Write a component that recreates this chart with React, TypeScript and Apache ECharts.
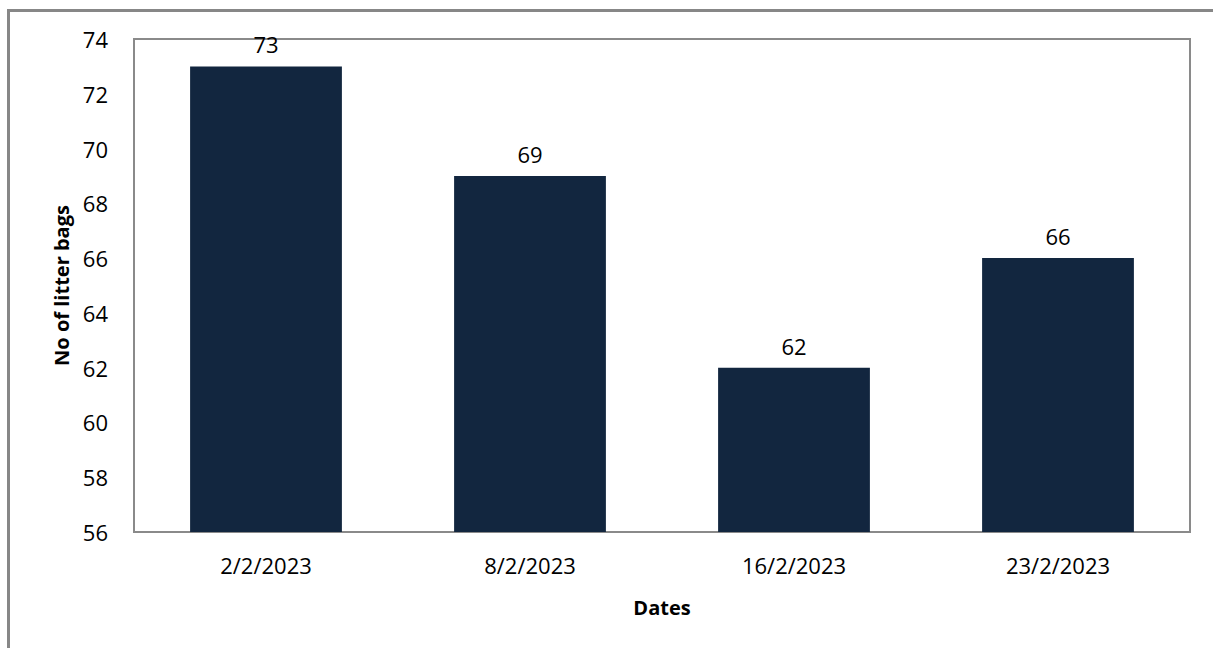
import React, { useEffect, useRef } from "react";
import * as echarts from "echarts";

const categories = ["2/2/2023", "8/2/2023", "16/2/2023", "23/2/2023"];
const values = [73, 69, 62, 66];
const yMin = 56;
const yMax = 74;
const yInterval = 2;

export default function App() {
  const ref = useRef<HTMLDivElement>(null);
  useEffect(() => {
    if (!ref.current) return;
    const chart = echarts.init(ref.current, null, { renderer: "svg" });
    const font = "'Open Sans', 'Noto Sans', sans-serif";
    chart.setOption({
      animation: false,
      backgroundColor: "#ffffff",
      graphic: [
        {
          type: "rect",
          shape: { x: 8.5, y: 10.5, width: 1300, height: 800 },
          style: { fill: "none", stroke: "#878787", lineWidth: 3 },
          silent: true,
        },
      ],
      grid: {
        left: 134,
        top: 39,
        right: 23,
        bottom: 116,
        show: true,
        borderColor: "#8a8a8a",
        borderWidth: 2,
        backgroundColor: "transparent",
      },
      xAxis: {
        type: "category",
        data: categories,
        name: "Dates",
        nameLocation: "middle",
        nameGap: 65,
        nameTextStyle: { fontFamily: font, fontSize: 20, fontWeight: "bold", color: "#000", verticalAlign: "top" },
        axisLine: { show: false },
        axisTick: { show: false },
        axisLabel: { fontFamily: font, fontSize: 22, color: "#000", margin: 22 },
      },
      yAxis: {
        type: "value",
        min: yMin,
        max: yMax,
        interval: yInterval,
        name: "No of litter bags",
        nameLocation: "middle",
        nameGap: 58,
        nameTextStyle: { fontFamily: font, fontSize: 20, fontWeight: "bold", color: "#000" },
        axisLine: { show: false },
        axisTick: { show: false },
        splitLine: { show: false },
        axisLabel: { fontFamily: font, fontSize: 22, color: "#000", margin: 26 },
      },
      series: [
        {
          type: "bar",
          data: values,
          barWidth: "57.5%",
          itemStyle: { color: "#12263f" },
          label: {
            show: true,
            position: "top",
            distance: 11,
            fontFamily: font,
            fontSize: 22,
            color: "#000",
          },
        },
      ],
    });
    return () => chart.dispose();
  }, []);
  return (
    <div
      ref={ref}
      style={{ position: "fixed", left: 0, top: 0, width: 1213, height: 648 }}
    />
  );
}
